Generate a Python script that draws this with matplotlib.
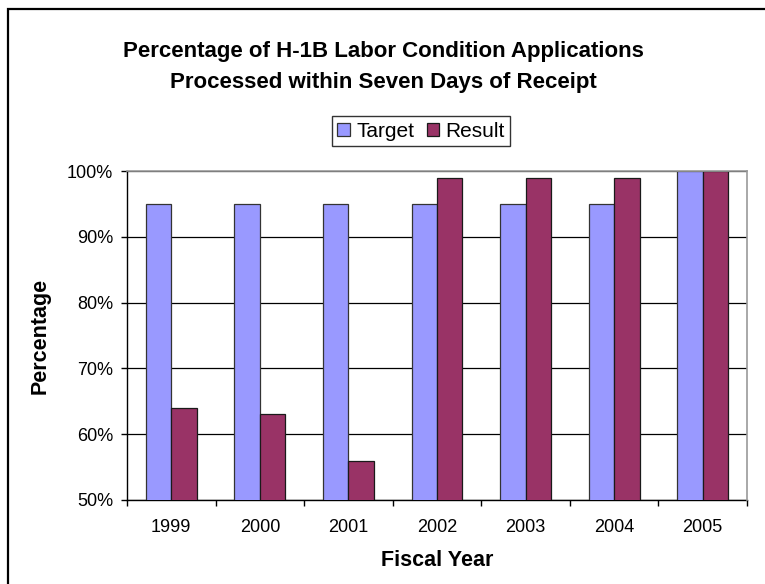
import matplotlib
matplotlib.use("Agg")
import matplotlib.pyplot as plt
from matplotlib.patches import Rectangle
from matplotlib.ticker import FixedLocator, FuncFormatter
import numpy as np

plt.rcParams['font.family'] = ['Liberation Sans', 'DejaVu Sans']

years = ["1999", "2000", "2001", "2002", "2003", "2004", "2005"]
target = [95, 95, 95, 95, 95, 95, 100]
result = [64, 63, 56, 99, 99, 99, 100]

W, H = 765, 584
fig = plt.figure(figsize=(W / 100, H / 100), dpi=100)

# outer frame
fig.patches.append(Rectangle((8 / W, -0.1), 1.2, 1 - 9 / H + 0.1,
                             transform=fig.transFigure, fill=False,
                             edgecolor='black', linewidth=1.6))

ax = fig.add_axes([127 / W, 1 - 500 / H, (747 - 127) / W, (500 - 171) / H])

x = np.arange(len(years))
bw = 0.287
ax.bar(x - bw / 2, target, bw, bottom=0, color='#9999FF', edgecolor='#333333',
       linewidth=0.9, label='Target', zorder=3)
ax.bar(x + bw / 2, result, bw, bottom=0, color='#993366', edgecolor='#1a1a1a',
       linewidth=0.9, label='Result', zorder=3)

ax.set_ylim(50, 100)
ax.set_xlim(-0.5, len(years) - 0.5)
ax.set_yticks([50, 60, 70, 80, 90, 100])
ax.yaxis.set_major_formatter(FuncFormatter(lambda v, p: f"{int(v)}%"))
ax.yaxis.grid(True, color='black', linewidth=0.9, zorder=1)

ax.set_xticks(x)
ax.set_xticklabels(years, fontsize=13)
ax.xaxis.set_minor_locator(FixedLocator(np.arange(-0.5, len(years), 1.0)))
ax.tick_params(axis='x', which='major', length=0, pad=14)
ax.tick_params(axis='x', which='minor', length=4, width=1, direction='out')
ax.tick_params(axis='y', length=4, width=1, direction='out', labelsize=13, pad=6)

for side in ('left', 'bottom'):
    ax.spines[side].set_color('black')
    ax.spines[side].set_linewidth(1.0)
for side in ('top', 'right'):
    ax.spines[side].set_color('#999999')
    ax.spines[side].set_linewidth(1.2)
    ax.spines[side].set_zorder(4)

ax.set_xlabel("Fiscal Year", fontsize=15.5, fontweight='bold', labelpad=10)
ax.set_ylabel("Percentage", fontsize=15.5, fontweight='bold', labelpad=12)

fig.text(383 / W, 1 - 67 / H,
         "Percentage of H-1B Labor Condition Applications\nProcessed within Seven Days of Receipt",
         ha='center', va='center', fontsize=16, fontweight='bold', linespacing=1.65)

leg = fig.legend(loc='center', bbox_to_anchor=(421 / W, 1 - 131 / H), ncol=2,
                 fontsize=15, frameon=True, fancybox=False, edgecolor='black',
                 handlelength=0.6, handleheight=0.6, handletextpad=0.3,
                 columnspacing=0.6, borderpad=0.25, borderaxespad=0)
leg.get_frame().set_linewidth(1.0)

fig.savefig("out.png", dpi=100)
